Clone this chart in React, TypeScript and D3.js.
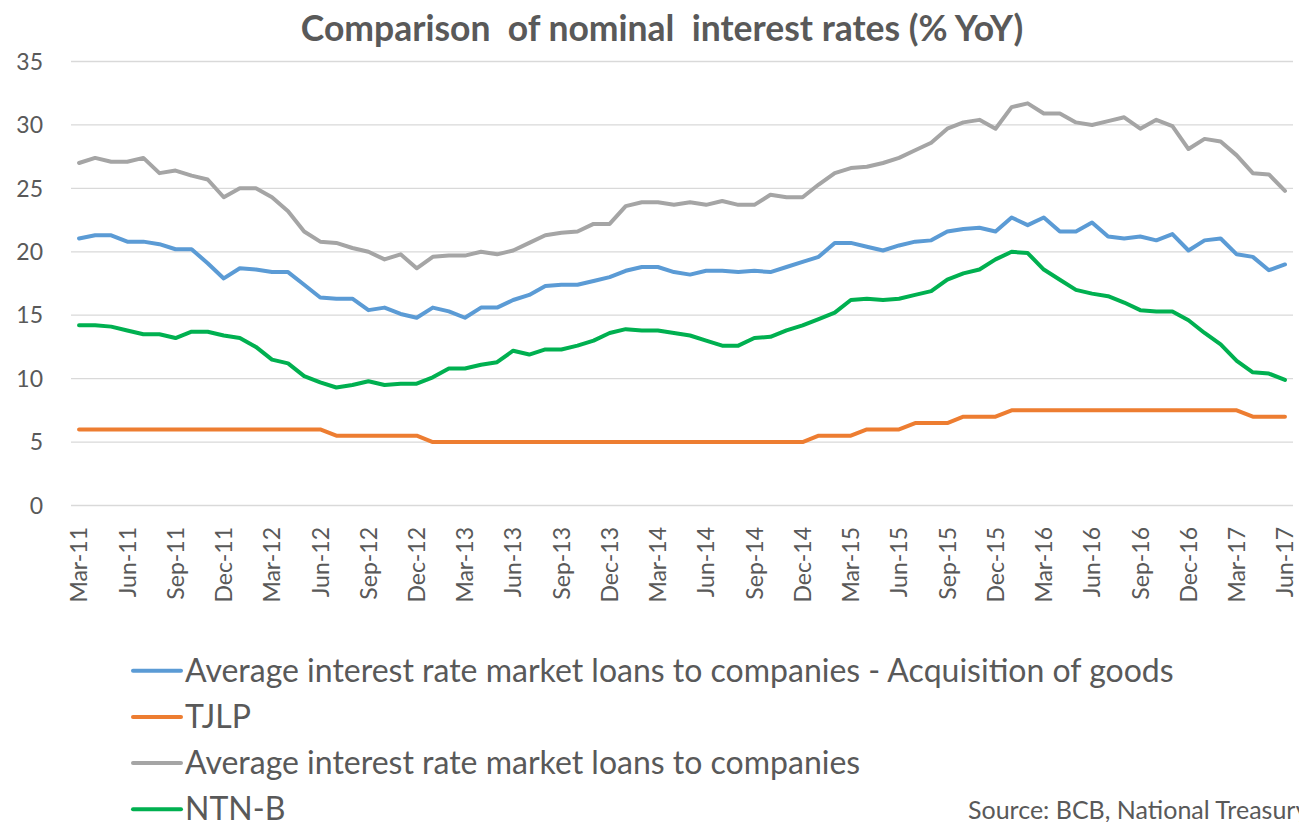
import * as React from 'react';
import * as d3 from 'd3';

// categories: monthly, Mar-11 .. Jun-17
const monthLabels = d3.timeMonth
    .range(new Date(2011, 2, 1), new Date(2017, 6, 1))
    .map(d3.timeFormat('%b-%y'));

const acquisitionGoods = [
    21.05, 21.3, 21.3, 20.8, 20.8, 20.6, 20.2, 20.2, 19.1, 17.9, 18.7, 18.6, 18.4, 18.4, 17.4, 16.4,
    16.3, 16.3, 15.4, 15.6, 15.1, 14.8, 15.6, 15.3, 14.8, 15.6, 15.6, 16.2, 16.6, 17.3, 17.4, 17.4,
    17.7, 18.0, 18.5, 18.8, 18.8, 18.4, 18.2, 18.5, 18.5, 18.4, 18.5, 18.4, 18.8, 19.2, 19.6, 20.7,
    20.7, 20.4, 20.1, 20.5, 20.8, 20.9, 21.6, 21.8, 21.9, 21.6, 22.7, 22.1, 22.7, 21.6, 21.6, 22.3,
    21.2, 21.05, 21.2, 20.9, 21.4, 20.1, 20.9, 21.05, 19.8, 19.6, 18.55, 19.0
];

const tjlp = [
    6.0, 6.0, 6.0, 6.0, 6.0, 6.0, 6.0, 6.0, 6.0, 6.0, 6.0, 6.0, 6.0, 6.0, 6.0, 6.0,
    5.5, 5.5, 5.5, 5.5, 5.5, 5.5, 5.0, 5.0, 5.0, 5.0, 5.0, 5.0, 5.0, 5.0, 5.0, 5.0,
    5.0, 5.0, 5.0, 5.0, 5.0, 5.0, 5.0, 5.0, 5.0, 5.0, 5.0, 5.0, 5.0, 5.0, 5.5, 5.5,
    5.5, 6.0, 6.0, 6.0, 6.5, 6.5, 6.5, 7.0, 7.0, 7.0, 7.5, 7.5, 7.5, 7.5, 7.5, 7.5,
    7.5, 7.5, 7.5, 7.5, 7.5, 7.5, 7.5, 7.5, 7.5, 7.0, 7.0, 7.0
];

const marketLoans = [
    27.0, 27.4, 27.1, 27.1, 27.4, 26.2, 26.4, 26.0, 25.7, 24.3, 25.0, 25.0, 24.3, 23.2, 21.6, 20.8,
    20.7, 20.3, 20.0, 19.4, 19.8, 18.7, 19.6, 19.7, 19.7, 20.0, 19.8, 20.1, 20.7, 21.3, 21.5, 21.6,
    22.2, 22.2, 23.6, 23.9, 23.9, 23.7, 23.9, 23.7, 24.0, 23.7, 23.7, 24.5, 24.3, 24.3, 25.3, 26.2,
    26.6, 26.7, 27.0, 27.4, 28.0, 28.6, 29.7, 30.2, 30.4, 29.7, 31.4, 31.7, 30.9, 30.9, 30.2, 30.0,
    30.3, 30.6, 29.7, 30.4, 29.9, 28.1, 28.9, 28.7, 27.6, 26.2, 26.1, 24.8
];

const ntnb = [
    14.2, 14.2, 14.1, 13.8, 13.5, 13.5, 13.2, 13.7, 13.7, 13.4, 13.2, 12.5, 11.5, 11.2, 10.2, 9.7,
    9.3, 9.5, 9.8, 9.5, 9.6, 9.6, 10.1, 10.8, 10.8, 11.1, 11.3, 12.2, 11.9, 12.3, 12.3, 12.6,
    13.0, 13.6, 13.9, 13.8, 13.8, 13.6, 13.4, 13.0, 12.6, 12.6, 13.2, 13.3, 13.8, 14.2, 14.7, 15.2,
    16.2, 16.3, 16.2, 16.3, 16.6, 16.9, 17.8, 18.3, 18.6, 19.4, 20.0, 19.9, 18.6, 17.8, 17.0, 16.7,
    16.5, 16.0, 15.4, 15.3, 15.3, 14.6, 13.6, 12.7, 11.4, 10.5, 10.4, 9.9
];

const yTicks = [0, 5, 10, 15, 20, 25, 30, 35];

const seriesNames = [
    'Average interest rate market loans to companies - Acquisition of goods',
    'TJLP',
    'Average interest rate market loans to companies',
    'NTN-B'
];
const seriesColours = ['#5B9BD5', '#ED7D31', '#A5A5A5', '#00B050'];
const seriesValues = [acquisitionGoods, tjlp, marketLoans, ntnb];

const WIDTH = 1299;
const HEIGHT = 822;
const FONT = 'Lato, "Noto Sans", sans-serif';
const TEXT_COLOUR = '#595959';

function InterestChart() {
    const ref = React.useRef<SVGSVGElement>(null);

    React.useEffect(() => {
        const svg = d3.select(ref.current);
        svg.selectAll('*').remove();

        const margin = { top: 61.5, left: 71, right: 6, bottom: 316.5 };

        const xScale = d3.scaleBand()
            .domain(monthLabels)
            .range([margin.left, WIDTH - margin.right]);
        const xMid = (d: string) => (xScale(d) as number) + xScale.bandwidth() / 2;

        const yScale = d3.scaleLinear()
            .domain([0, 35])
            .range([HEIGHT - margin.bottom, margin.top]);

        svg.append('text')
            .attr('x', 662)
            .attr('y', 41)
            .attr('text-anchor', 'middle')
            .attr('xml:space', 'preserve')
            .style('white-space', 'pre')
            .style('font-family', FONT)
            .style('font-weight', 'bold')
            .style('font-size', '35.5px')
            .style('fill', TEXT_COLOUR)
            .text('Comparison  of nominal  interest rates (% YoY)');

        // gridlines + y labels
        const grid = svg.append('g');
        grid.selectAll('line')
            .data(yTicks)
            .enter()
            .append('line')
            .attr('x1', margin.left)
            .attr('x2', WIDTH - margin.right)
            .attr('y1', d => yScale(d))
            .attr('y2', d => yScale(d))
            .style('stroke', '#D9D9D9')
            .style('stroke-width', 1.3);
        grid.selectAll('text')
            .data(yTicks)
            .enter()
            .append('text')
            .attr('x', 43)
            .attr('y', d => yScale(d))
            .attr('dy', '0.36em')
            .attr('text-anchor', 'end')
            .style('font-family', FONT)
            .style('font-size', '23px')
            .style('fill', TEXT_COLOUR)
            .text(d => d);

        // x labels every quarter
        svg.append('g')
            .selectAll('text')
            .data(monthLabels.filter((d, i) => i % 3 === 0))
            .enter()
            .append('text')
            .attr('transform', d => 'translate(' + xMid(d) + ',527) rotate(-90)')
            .attr('dy', '0.36em')
            .attr('text-anchor', 'end')
            .style('font-family', FONT)
            .style('font-size', '23px')
            .style('fill', TEXT_COLOUR)
            .text(d => d);

        const line = d3.line<number>()
            .x((d, i) => xMid(monthLabels[i]))
            .y(d => yScale(d));

        svg.append('g')
            .selectAll('path')
            .data(seriesValues)
            .enter()
            .append('path')
            .attr('d', d => line(d))
            .style('fill', 'none')
            .style('stroke', (d, i) => seriesColours[i])
            .style('stroke-width', 4)
            .style('stroke-linejoin', 'round')
            .style('stroke-linecap', 'round');

        // legend
        const legend = svg.append('g')
            .selectAll('g')
            .data(seriesNames)
            .enter()
            .append('g')
            .attr('transform', (d, i) => 'translate(0,' + (670.7 + i * 46.2) + ')');
        legend.append('line')
            .attr('x1', 133)
            .attr('x2', 181)
            .style('stroke', (d, i) => seriesColours[i])
            .style('stroke-width', 4)
            .style('stroke-linecap', 'round');
        legend.append('text')
            .attr('x', 185)
            .attr('dy', '0.34em')
            .style('font-family', FONT)
            .style('font-size', '32px')
            .style('fill', TEXT_COLOUR)
            .text(d => d);

        svg.append('text')
            .attr('x', 968)
            .attr('y', 819)
            .style('font-family', FONT)
            .style('font-size', '25px')
            .style('fill', TEXT_COLOUR)
            .text('Source: BCB, National Treasury');
    }, []);

    return <svg ref={ref} width={WIDTH} height={HEIGHT} style={{ display: 'block', background: '#fff' }} />;
}

export default function App() {
    return (
        <div style={{ position: 'absolute', left: 0, top: 0, width: WIDTH, height: HEIGHT, overflow: 'hidden' }}>
            <InterestChart />
        </div>
    );
}
